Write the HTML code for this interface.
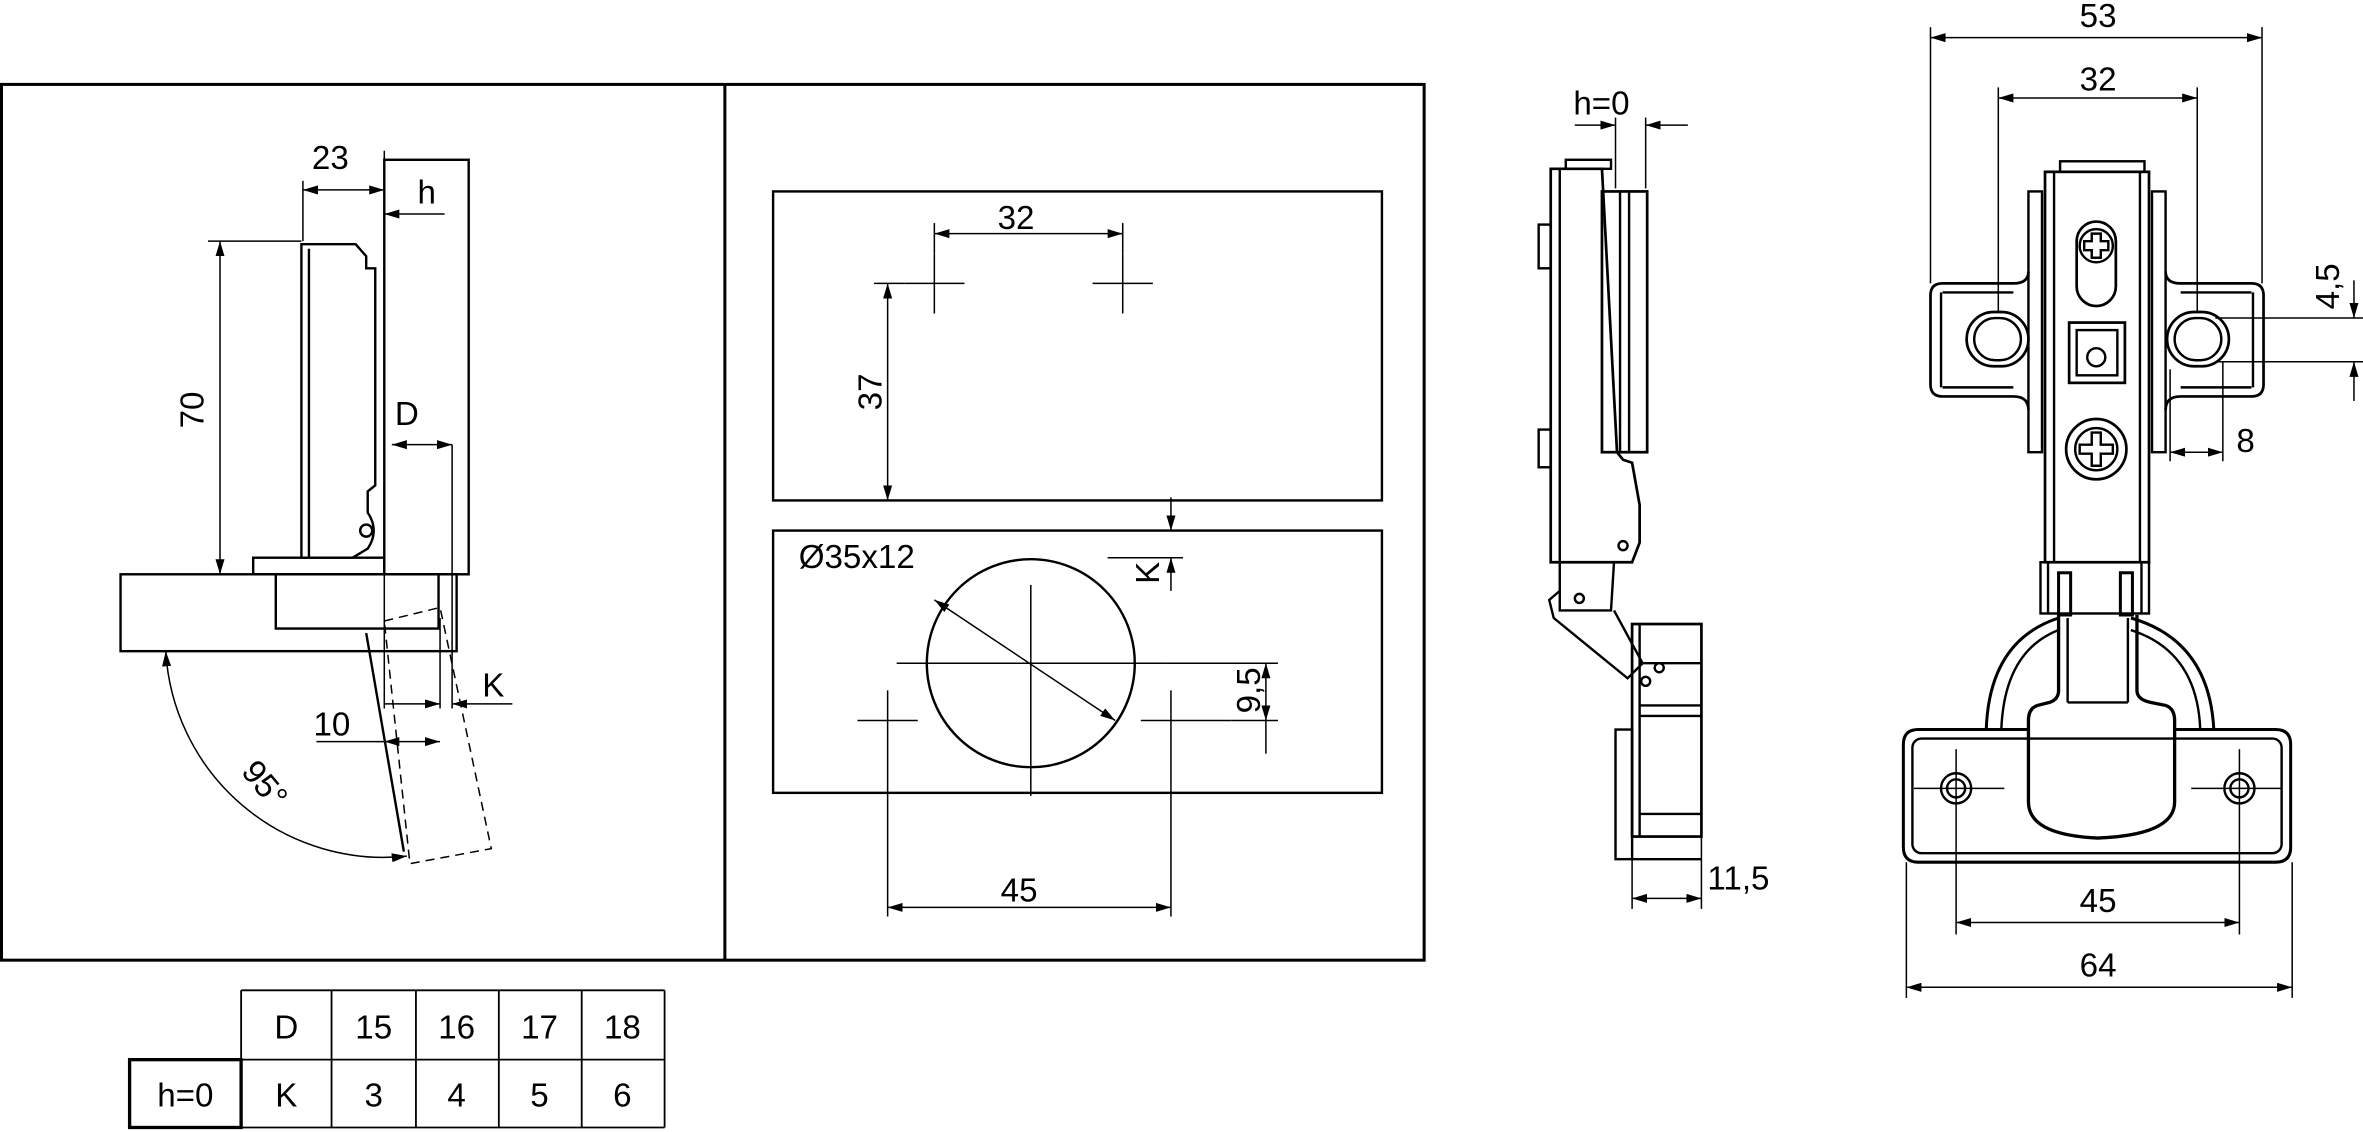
<!DOCTYPE html>
<html><head><meta charset="utf-8"><style>
html,body{margin:0;padding:0;background:#fff;}
svg{display:block;}
text{font-family:"Liberation Sans",sans-serif;fill:#000;}
</style></head><body>
<svg width="2363" height="1132" viewBox="0 0 1568 751" preserveAspectRatio="none" xmlns="http://www.w3.org/2000/svg">
<defs>
<marker id="a" viewBox="0 0 10 6" refX="10" refY="3" markerWidth="10" markerHeight="6" markerUnits="userSpaceOnUse" orient="auto-start-reverse"><path d="M0,0 L10,3 L0,6 Z" fill="#000"/></marker>
</defs>
<g fill="none" stroke="#000" stroke-width="1.6">
<rect x="1" y="56" width="944" height="581" stroke-width="2"/>
<line x1="481" y1="56" x2="481" y2="637" stroke-width="2"/>

<rect x="255" y="106" width="56" height="275"/>
<path d="M200,370 V162 H236 L243,170 V178 H249 V322 L244,326 V340 Q252,352 244,364 L234,370 Z"/>
<path d="M205,370 V165"/>
<circle cx="243" cy="352" r="4"/>
<rect x="168" y="370" width="87" height="11"/>
<rect x="80" y="381" width="223" height="51"/>
<rect x="183" y="381" width="108" height="36"/>
<path d="M255,412 L292,403 L326,563 L272,573 Z" stroke-dasharray="6,4" stroke-width="1"/>
<line x1="243" y1="420" x2="268" y2="565"/>
<g stroke-width="1">
<line x1="146" y1="160" x2="146" y2="381" marker-start="url(#a)" marker-end="url(#a)"/>
<line x1="138" y1="160" x2="200" y2="160"/>
<line x1="201" y1="120" x2="201" y2="160"/>
<line x1="255" y1="100" x2="255" y2="106"/>
<line x1="201" y1="126" x2="255" y2="126" marker-start="url(#a)" marker-end="url(#a)"/>
<line x1="295" y1="142" x2="255" y2="142" marker-end="url(#a)"/>
<line x1="300" y1="295" x2="300" y2="470"/>
<line x1="255" y1="381" x2="255" y2="470"/>
<line x1="260" y1="295" x2="300" y2="295" marker-start="url(#a)" marker-end="url(#a)"/>
<line x1="292" y1="410" x2="292" y2="470"/>
<line x1="255" y1="467" x2="292" y2="467" marker-end="url(#a)"/>
<line x1="340" y1="467" x2="300" y2="467" marker-end="url(#a)"/>
<line x1="210" y1="492" x2="255" y2="492"/>
<line x1="255" y1="492" x2="262" y2="492" marker-start="url(#a)"/>
<line x1="292" y1="492" x2="262" y2="492" marker-start="url(#a)"/>
<path d="M110,432 A145,145 0 0 0 270,568" marker-start="url(#a)" marker-end="url(#a)"/>
</g>

<rect x="513" y="127" width="404" height="205"/>
<rect x="513" y="352" width="404" height="174"/>
<g stroke-width="1">
<line x1="600" y1="188" x2="640" y2="188"/><line x1="620" y1="168" x2="620" y2="208"/>
<line x1="725" y1="188" x2="765" y2="188"/><line x1="745" y1="168" x2="745" y2="208"/>
<line x1="620" y1="148" x2="620" y2="168"/><line x1="745" y1="148" x2="745" y2="168"/>
<line x1="620" y1="155" x2="745" y2="155" marker-start="url(#a)" marker-end="url(#a)"/>
<line x1="580" y1="188" x2="600" y2="188"/>
<line x1="589" y1="188" x2="589" y2="332" marker-start="url(#a)" marker-end="url(#a)"/>
<line x1="595" y1="440" x2="775" y2="440"/><line x1="684" y1="388" x2="684" y2="528"/>
<line x1="569" y1="478" x2="609" y2="478"/><line x1="589" y1="458" x2="589" y2="608"/>
<line x1="757" y1="478" x2="817" y2="478"/><line x1="777" y1="458" x2="777" y2="608"/>
<line x1="589" y1="602" x2="777" y2="602" marker-start="url(#a)" marker-end="url(#a)"/>
<line x1="620" y1="398" x2="740" y2="478" marker-start="url(#a)" marker-end="url(#a)"/>
<line x1="777" y1="330" x2="777" y2="352" marker-end="url(#a)"/>
<line x1="777" y1="392" x2="777" y2="370" marker-end="url(#a)"/>
<line x1="735" y1="370" x2="785" y2="370"/>
<line x1="775" y1="440" x2="848" y2="440"/><line x1="817" y1="478" x2="848" y2="478"/>
<line x1="840" y1="440" x2="840" y2="478" marker-start="url(#a)" marker-end="url(#a)"/>
<line x1="840" y1="478" x2="840" y2="500"/>
</g>
<circle cx="684" cy="440" r="69"/>

<g stroke-width="1.2">
<line x1="160" y1="657" x2="441" y2="657"/><line x1="160" y1="703" x2="441" y2="703"/><line x1="160" y1="748" x2="441" y2="748"/>
<line x1="160" y1="657" x2="160" y2="748"/><line x1="220" y1="657" x2="220" y2="748"/><line x1="276" y1="657" x2="276" y2="748"/>
<line x1="331" y1="657" x2="331" y2="748"/><line x1="386" y1="657" x2="386" y2="748"/><line x1="441" y1="657" x2="441" y2="748"/>
</g>
<rect x="86" y="703" width="74" height="45" stroke-width="2.2"/>

<rect x="1039" y="106" width="30" height="6"/>
<path d="M1029,112 H1063 L1073,300 L1077,305 L1083,307 L1088,335 L1088,360 L1083,373 H1029 Z" stroke-width="1.8"/>
<line x1="1035" y1="112" x2="1035" y2="373"/>
<rect x="1063" y="127" width="30" height="173" stroke-width="1.8"/>
<line x1="1075" y1="127" x2="1075" y2="300"/><line x1="1081" y1="127" x2="1081" y2="300"/>
<rect x="1021" y="149" width="8" height="29"/><rect x="1021" y="285" width="8" height="25"/>
<circle cx="1077" cy="362" r="3"/>
<path d="M1035,373 V405 H1069 L1071,373"/>
<circle cx="1048" cy="397" r="3"/>
<path d="M1035,392 L1028,398 L1031,410 L1080,450 L1090,440 L1071,405"/>
<rect x="1083" y="414" width="46" height="141" stroke-width="1.8"/>
<line x1="1088" y1="414" x2="1088" y2="555"/>
<line x1="1088" y1="440" x2="1129" y2="440"/><line x1="1088" y1="468" x2="1129" y2="468"/><line x1="1088" y1="475" x2="1129" y2="475"/>
<line x1="1088" y1="540" x2="1129" y2="540"/>
<rect x="1072" y="484" width="11" height="86"/>
<line x1="1083" y1="570" x2="1129" y2="570"/>
<circle cx="1092" cy="452" r="3"/><circle cx="1101" cy="443" r="3"/>
<g stroke-width="1">
<line x1="1072" y1="78" x2="1072" y2="125"/><line x1="1092" y1="78" x2="1092" y2="125"/>
<line x1="1045" y1="83" x2="1072" y2="83" marker-end="url(#a)"/>
<line x1="1120" y1="83" x2="1092" y2="83" marker-end="url(#a)"/>
<line x1="1083" y1="555" x2="1083" y2="603"/><line x1="1129" y1="555" x2="1129" y2="603"/>
<line x1="1083" y1="596" x2="1129" y2="596" marker-start="url(#a)" marker-end="url(#a)"/>
</g>

<rect x="1367" y="107" width="56" height="7"/>
<rect x="1357" y="114" width="69" height="259" stroke-width="1.8"/>
<line x1="1363" y1="114" x2="1363" y2="373"/><line x1="1420" y1="114" x2="1420" y2="373"/>
<rect x="1346" y="127" width="9" height="173"/><rect x="1428" y="127" width="9" height="173"/>
<path d="M1346,180 Q1346,188 1336,188 H1289 Q1281,188 1281,196 V255 Q1281,263 1289,263 H1336 Q1346,263 1346,272" stroke-width="1.8"/>
<path d="M1437,180 Q1437,188 1447,188 H1494 Q1502,188 1502,196 V255 Q1502,263 1494,263 H1447 Q1437,263 1437,272" stroke-width="1.8"/>
<line x1="1288" y1="194" x2="1288" y2="257"/><line x1="1495" y1="194" x2="1495" y2="257"/>
<line x1="1289" y1="194" x2="1336" y2="194"/><line x1="1289" y1="257" x2="1336" y2="257"/>
<line x1="1447" y1="194" x2="1494" y2="194"/><line x1="1447" y1="257" x2="1494" y2="257"/>
<rect x="1305" y="207" width="41" height="36" rx="18" stroke-width="1.8"/><rect x="1310" y="211" width="31" height="28" rx="14"/>
<rect x="1438" y="207" width="41" height="36" rx="18" stroke-width="1.8"/><rect x="1443" y="211" width="31" height="28" rx="14"/>
<path d="M1378,160 A13,13 0 0 1 1404,160 V190 A13,13 0 0 1 1378,190 Z" stroke-width="1.8"/>
<circle cx="1391" cy="163" r="11"/>
<path d="M1388,155 H1394 V160 H1399 V166 H1394 V171 H1388 V166 H1383 V160 H1388 Z"/>
<rect x="1373" y="214" width="37" height="40" stroke-width="1.8"/><rect x="1378" y="219" width="27" height="30"/>
<circle cx="1391" cy="237" r="6"/>
<circle cx="1391" cy="298" r="20" stroke-width="1.8"/><circle cx="1391" cy="298" r="14"/>
<path d="M1388,287 H1394 V295 H1402 V301 H1394 V309 H1388 V301 H1380 V295 H1388 Z"/>
<rect x="1354" y="373" width="72" height="34"/>
<line x1="1359" y1="373" x2="1359" y2="407"/><line x1="1421" y1="373" x2="1421" y2="407"/>
<rect x="1366" y="380" width="8" height="28" stroke-width="2"/><rect x="1407" y="380" width="8" height="28" stroke-width="2"/>
<path d="M1318,484 Q1320,425 1366,410 M1414,410 Q1466,425 1469,484" stroke-width="2"/>
<path d="M1328,484 Q1330,432 1366,418 M1414,418 Q1458,432 1460,484"/>
<path d="M1366,408 V458 Q1366,464 1360,466 L1352,468 Q1346,470 1346,478 V532 Q1346,554 1392,556 Q1443,554 1443,532 V478 Q1443,470 1437,468 L1427,466 Q1418,464 1418,458 V408" stroke-width="2.2"/>
<line x1="1372" y1="466" x2="1412" y2="466"/>
<line x1="1372" y1="410" x2="1372" y2="466"/><line x1="1412" y1="410" x2="1412" y2="466"/>
<path d="M1346,484 H1273 Q1263,484 1263,494 V562 Q1263,572 1273,572 H1510 Q1520,572 1520,562 V494 Q1520,484 1510,484 H1443" stroke-width="2"/>
<rect x="1269" y="490" width="245" height="76" rx="6"/>
<circle cx="1298" cy="523" r="10"/><circle cx="1298" cy="523" r="6"/>
<circle cx="1486" cy="523" r="10"/><circle cx="1486" cy="523" r="6"/>
<g stroke-width="1">
<line x1="1270" y1="523" x2="1330" y2="523"/><line x1="1454" y1="523" x2="1514" y2="523"/>
<line x1="1298" y1="497" x2="1298" y2="620"/><line x1="1486" y1="497" x2="1486" y2="620"/>
<line x1="1298" y1="612" x2="1486" y2="612" marker-start="url(#a)" marker-end="url(#a)"/>
<line x1="1265" y1="572" x2="1265" y2="662"/><line x1="1521" y1="572" x2="1521" y2="662"/>
<line x1="1265" y1="655" x2="1521" y2="655" marker-start="url(#a)" marker-end="url(#a)"/>
<line x1="1281" y1="18" x2="1281" y2="188"/><line x1="1501" y1="18" x2="1501" y2="188"/>
<line x1="1281" y1="25" x2="1501" y2="25" marker-start="url(#a)" marker-end="url(#a)"/>
<line x1="1326" y1="58" x2="1326" y2="207"/><line x1="1458" y1="58" x2="1458" y2="207"/>
<line x1="1326" y1="65" x2="1458" y2="65" marker-start="url(#a)" marker-end="url(#a)"/>
<line x1="1470" y1="211" x2="1568" y2="211"/><line x1="1470" y1="240" x2="1568" y2="240"/>
<line x1="1562" y1="186" x2="1562" y2="211" marker-end="url(#a)"/>
<line x1="1562" y1="266" x2="1562" y2="240" marker-end="url(#a)"/>
<line x1="1440" y1="245" x2="1440" y2="306"/><line x1="1475" y1="240" x2="1475" y2="306"/>
<line x1="1440" y1="300" x2="1475" y2="300" marker-start="url(#a)" marker-end="url(#a)"/>
</g>
</g>

<g font-size="22">
<text x="207" y="112">23</text>
<text x="277" y="135">h</text>
<text x="0" y="0" transform="translate(135,272) rotate(-90)" text-anchor="middle">70</text>
<text x="262" y="282">D</text>
<text x="320" y="462">K</text>
<text x="208" y="488">10</text>
<text x="0" y="0" transform="translate(170,525) rotate(50)" text-anchor="middle">95°</text>
<text x="662" y="152">32</text>
<text x="0" y="0" transform="translate(585,260) rotate(-90)" text-anchor="middle">37</text>
<text x="530" y="377">Ø35x12</text>
<text x="0" y="0" transform="translate(769,380) rotate(-90)" text-anchor="middle">K</text>
<text x="0" y="0" transform="translate(836,458) rotate(-90)" text-anchor="middle">9,5</text>
<text x="664" y="598">45</text>
<text x="1044" y="76">h=0</text>
<text x="1133" y="590">11,5</text>
<text x="1380" y="18">53</text>
<text x="1380" y="60">32</text>
<text x="0" y="0" transform="translate(1552,190) rotate(-90)" text-anchor="middle">4,5</text>
<text x="1484" y="300">8</text>
<text x="1380" y="605">45</text>
<text x="1380" y="648">64</text>
<g text-anchor="middle">
<text x="190" y="689">D</text><text x="248" y="689">15</text><text x="303" y="689">16</text><text x="358" y="689">17</text><text x="413" y="689">18</text>
<text x="123" y="734">h=0</text><text x="190" y="734">K</text><text x="248" y="734">3</text><text x="303" y="734">4</text><text x="358" y="734">5</text><text x="413" y="734">6</text>
</g>
</g>
</svg>
</body></html>
